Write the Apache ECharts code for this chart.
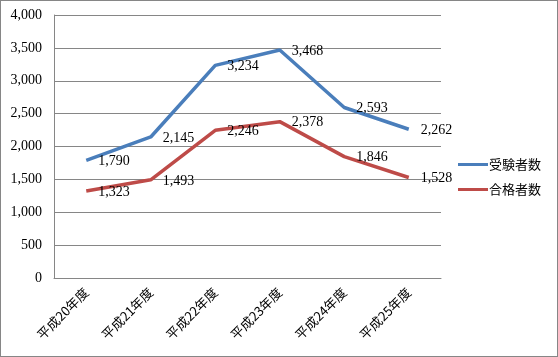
<!DOCTYPE html>
<html><head><meta charset="utf-8">
<script src="https://cdn.jsdelivr.net/npm/echarts@6/dist/echarts.min.js"></script>
<style>
html,body{margin:0;padding:0;background:#fff;}
#c{width:558px;height:357px;box-sizing:border-box;border:1px solid #868686;}
</style></head>
<body><div id="c"></div>
<script>
const categories = ['平成20年度','平成21年度','平成22年度','平成23年度','平成24年度','平成25年度'];
const applicants = [1790, 2145, 3234, 3468, 2593, 2262];
const passers = [1323, 1493, 2246, 2378, 1846, 1528];
const seriesNames = ['受験者数','合格者数'];

const SERIF = "'Liberation Serif', 'DejaVu Serif', serif";
const chart = echarts.init(document.getElementById('c'));
const fmt = v => v.toLocaleString('en-US');
const labelStyle = {
  show: true, position: 'right', distance: 12, offset: [0, 1],
  fontFamily: SERIF, fontSize: 14, color: '#000',
  formatter: p => fmt(p.value)
};
function mk(name, data, color) {
  return {
    name, type: 'line', data,
    symbol: 'circle', symbolSize: 0, showSymbol: true,
    itemStyle: { color },
    lineStyle: { color, width: 3.5 },
    label: labelStyle,
    emphasis: { disabled: true },
    animation: false
  };
}
chart.setOption({
  animation: false,
  grid: { left: 53, right: 116, top: 14, bottom: 78, containLabel: false },
  legend: {
    orient: 'vertical', right: 11, top: 152,
    itemWidth: 30, itemHeight: 3, itemGap: 12,
    textStyle: { fontFamily: 'Noto Sans CJK JP', fontSize: 13, color: '#000', padding: [0,0,0,-4] },
    data: [
      { name: seriesNames[0], icon: 'rect', itemStyle: { color: '#4A7EBB' } },
      { name: seriesNames[1], icon: 'rect', itemStyle: { color: '#BE4B48' } }
    ]
  },
  xAxis: {
    type: 'category', data: categories, boundaryGap: true,
    axisLine: { lineStyle: { color: '#868686', width: 1 } },
    axisTick: { show: false },
    axisLabel: { rotate: 45, margin: 12, fontFamily: 'Noto Sans CJK JP', fontSize: 13, color: '#000' }
  },
  yAxis: {
    type: 'value', min: 0, max: 4000, interval: 500,
    axisLine: { show: true, lineStyle: { color: '#868686', width: 1 } },
    axisTick: { show: false },
    splitLine: { lineStyle: { color: '#868686', width: 1 } },
    axisLabel: { margin: 12, fontFamily: SERIF, fontSize: 14, color: '#000', formatter: v => fmt(v) }
  },
  series: [mk(seriesNames[0], applicants, '#4A7EBB'), mk(seriesNames[1], passers, '#BE4B48')]
});
</script></body></html>
